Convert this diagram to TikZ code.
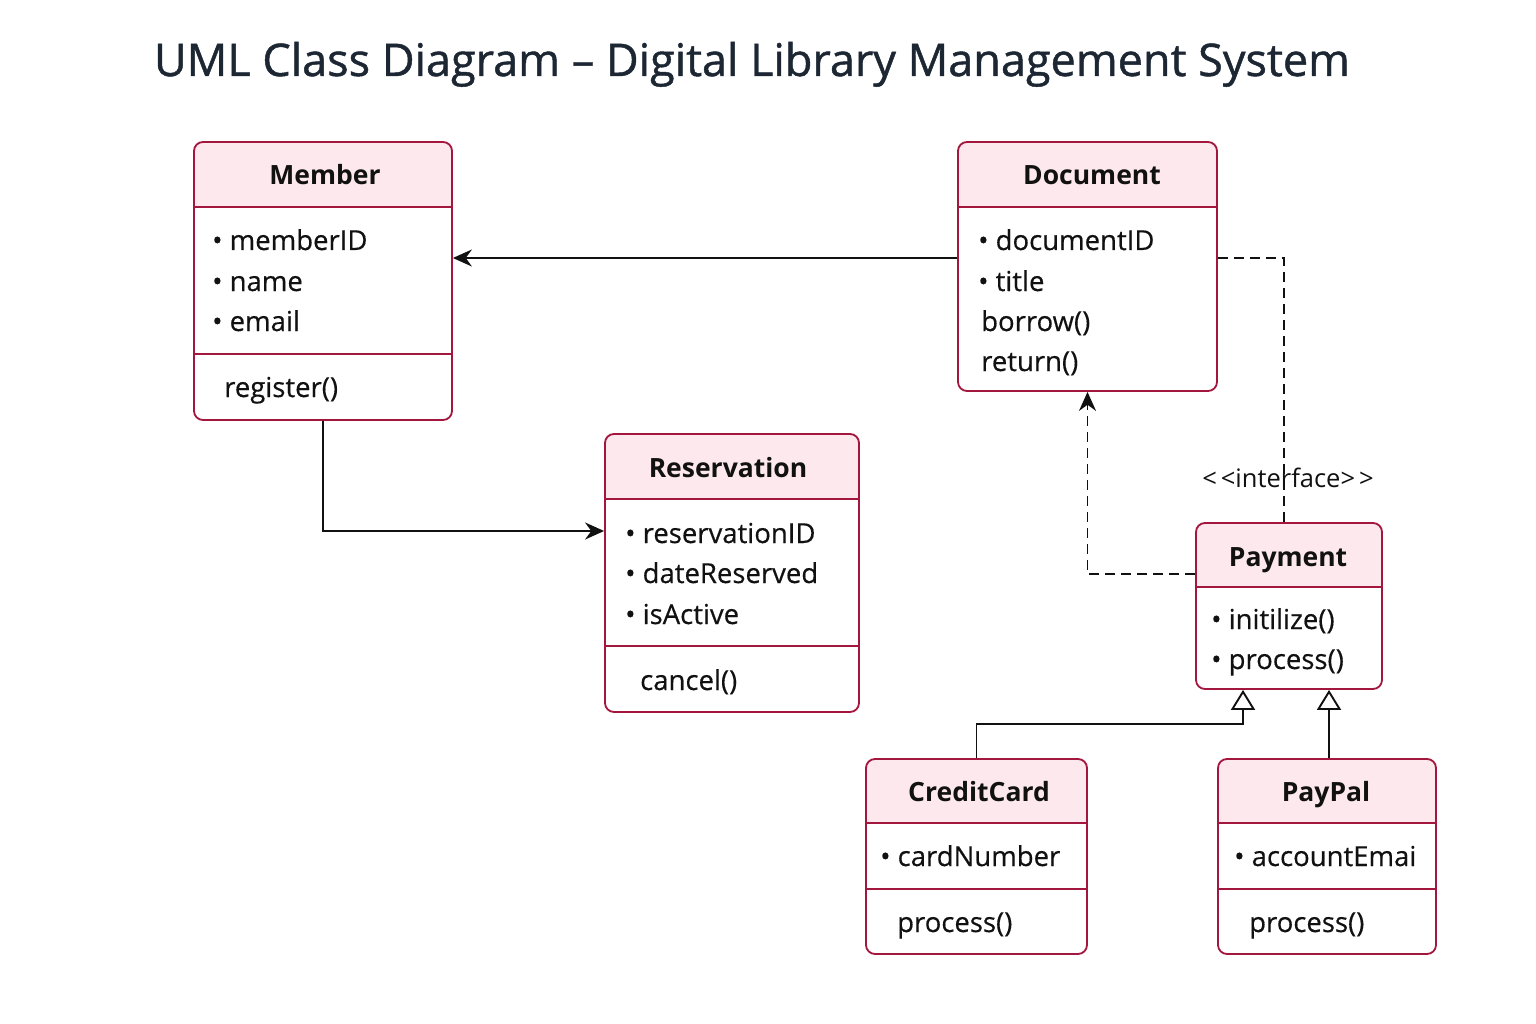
\documentclass[tikz,border=0pt]{standalone}
\usepackage{fontspec}
\setmainfont{Open Sans}
\usetikzlibrary{arrows.meta,positioning,backgrounds}
\definecolor{crim}{HTML}{A3173F}
\definecolor{hdrpink}{HTML}{FDE9ED}
\definecolor{ink}{HTML}{111111}
\definecolor{titleink}{HTML}{1C2733}
\tikzset{
  classbox/.style={rectangle, rounded corners=9pt, draw=crim, line width=1.8pt, inner sep=0pt},
  sepline/.style={draw=crim, line width=1.8pt},
  hdrfill/.style={fill=hdrpink},
  cname/.style={font=\fontsize{26.5}{32}\selectfont\bfseries, text=ink, inner sep=0pt, anchor=base},
  attr/.style={font=\fontsize{27.5}{32}\selectfont\addfontfeature{FakeBold=0.4}, text=ink, inner sep=0pt, anchor=base west},
  stereo/.style={font=\fontsize{25.5}{30}\selectfont, text=ink, inner sep=0pt, anchor=base},
  assoc/.style={-{Stealth[length=19pt,width=17pt]}, line width=1.9pt, draw=ink},
  dep/.style={line width=1.9pt, draw=ink, dash pattern=on 10pt off 6pt},
  inherit/.style={-{Triangle[open, length=20pt, width=24pt, fill=white]}, line width=1.9pt, draw=ink},
}

\begin{document}
\begin{tikzpicture}[x=1pt, y=-1pt]
  \useasboundingbox (0,0) rectangle (1536,1024);
  \node[font=\fontsize{45}{54}\selectfont\addfontfeature{FakeBold=1}, text=titleink, inner sep=0pt, anchor=base] (title) at (752,76)
    {UML Class Diagram – Digital Library Management System};

  % class frames
  \node[classbox, minimum width=258pt, minimum height=278pt] (member) at (323,281) {};
  \node[classbox, minimum width=259pt, minimum height=249pt] (doc) at (1087.5,266.5) {};
  \node[classbox, minimum width=254pt, minimum height=278pt] (res) at (732,573) {};
  \node[classbox, minimum width=186pt, minimum height=166pt] (pay) at (1289,606) {};
  \node[classbox, minimum width=221pt, minimum height=195pt] (cc) at (976.5,856.5) {};
  \node[classbox, minimum width=218pt, minimum height=195pt] (pp) at (1327,856.5) {};

  % header fills
  \begin{scope}[on background layer]
    \fill[white] (0,0) rectangle (1536,1024);
    \fill[hdrfill, rounded corners=9pt] (member.north west) rectangle (member.east |- 0,207);
    \fill[hdrfill] (member.west |- 0,180) rectangle (member.east |- 0,207);
    \fill[hdrfill, rounded corners=9pt] (doc.north west) rectangle (doc.east |- 0,207);
    \fill[hdrfill] (doc.west |- 0,180) rectangle (doc.east |- 0,207);
    \fill[hdrfill, rounded corners=9pt] (res.north west) rectangle (res.east |- 0,499);
    \fill[hdrfill] (res.west |- 0,470) rectangle (res.east |- 0,499);
    \fill[hdrfill, rounded corners=9pt] (pay.north west) rectangle (pay.east |- 0,587);
    \fill[hdrfill] (pay.west |- 0,560) rectangle (pay.east |- 0,587);
    \fill[hdrfill, rounded corners=9pt] (cc.north west) rectangle (cc.east |- 0,823);
    \fill[hdrfill] (cc.west |- 0,795) rectangle (cc.east |- 0,823);
    \fill[hdrfill, rounded corners=9pt] (pp.north west) rectangle (pp.east |- 0,823);
    \fill[hdrfill] (pp.west |- 0,795) rectangle (pp.east |- 0,823);
  \end{scope}

  % compartment lines
  \draw[sepline] (member.west |- 0,207) -- (member.east |- 0,207);
  \draw[sepline] (member.west |- 0,354) -- (member.east |- 0,354);
  \draw[sepline] (doc.west |- 0,207) -- (doc.east |- 0,207);
  \draw[sepline] (res.west |- 0,499) -- (res.east |- 0,499);
  \draw[sepline] (res.west |- 0,646) -- (res.east |- 0,646);
  \draw[sepline] (pay.west |- 0,587) -- (pay.east |- 0,587);
  \draw[sepline] (cc.west |- 0,823) -- (cc.east |- 0,823);
  \draw[sepline] (cc.west |- 0,889) -- (cc.east |- 0,889);
  \draw[sepline] (pp.west |- 0,823) -- (pp.east |- 0,823);
  \draw[sepline] (pp.west |- 0,889) -- (pp.east |- 0,889);

  % Member
  \node[cname] (member-n) at (325,185) {Member};
  \node[attr] (member-a1) at (212,250) {• memberID};
  \node[attr] (member-a2) at (212,291) {• name};
  \node[attr] (member-a3) at (212,331) {• email};
  \node[attr] (member-m1) at (224,397) {register()};

  % Document
  \node[cname] (doc-n) at (1092,185) {Document};
  \node[attr] (doc-a1) at (978,250) {• documentID};
  \node[attr] (doc-a2) at (978,291) {• title};
  \node[attr] (doc-m1) at (981,331) {borrow()};
  \node[attr] (doc-m2) at (981,371) {return()};

  % Reservation
  \node[cname] (res-n) at (728,477) {Reservation};
  \node[attr] (res-a1) at (625,543) {• reservationID};
  \node[attr] (res-a2) at (625,583) {• dateReserved};
  \node[attr] (res-a3) at (625,624) {• isActive};
  \node[attr] (res-m1) at (640,690) {cancel()};

  % Payment
  \node[cname] (pay-n) at (1288,566) {Payment};
  \node[attr] (pay-a1) at (1211,629) {• initilize()};
  \node[attr] (pay-a2) at (1211,669) {• process()};

  % CreditCard
  \node[cname] (cc-n) at (979,801) {CreditCard};
  \node[attr] (cc-a1) at (880,866) {• cardNumber};
  \node[attr] (cc-m1) at (897,932) {process()};

  % PayPal
  \node[cname] (pp-n) at (1326,801) {PayPal};
  \node[attr] (pp-a1) at (1234,866) {• accountEmai};
  \node[attr] (pp-m1) at (1249,932) {process()};

  % relations
  \draw[assoc] ([yshift=8.5pt]doc.west) -- ([yshift=23pt]member.east);
  \draw[assoc] (member.south) |- ([yshift=42pt]res.west);
  \draw[dep] ([yshift=8.5pt]doc.east) -| ([xshift=-5pt]pay.north);
  \node[stereo] (iface) at (1288,487) {<\kern4pt<interface>\kern4pt>};
  \draw[dep, -{Stealth[length=19pt,width=17pt]}] ([yshift=32pt]pay.west) -| (doc.south);
  \draw[inherit] (cc.north) |- ([xshift=-46pt,yshift=-34pt]pay.south) -- ([xshift=-46pt]pay.south);
  \draw[inherit] ([xshift=2pt]pp.north) -- ([xshift=40pt]pay.south);
\end{tikzpicture}
\end{document}
